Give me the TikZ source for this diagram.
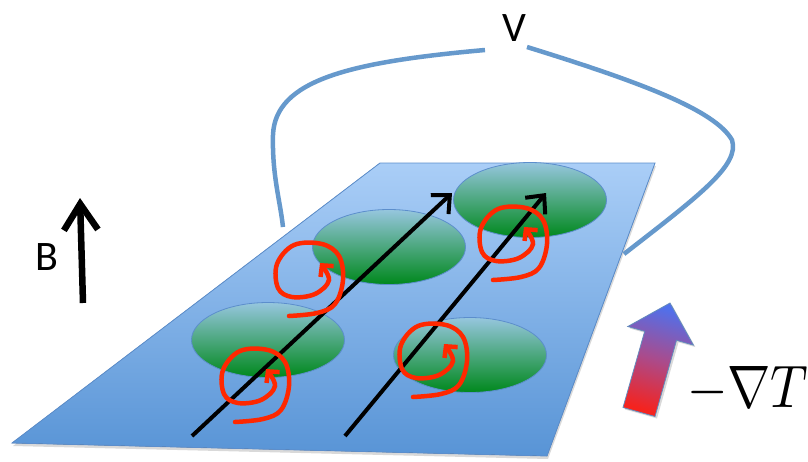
\documentclass[tikz,border=0pt]{standalone}
\usepackage{fontspec}
\newfontfamily\labelfont{Carlito}
\usetikzlibrary{arrows.meta,shapes.geometric,shadows}
\definecolor{platetop}{RGB}{170,206,247}
\definecolor{platebot}{RGB}{88,148,214}
\definecolor{edgeblue}{RGB}{92,142,204}
\definecolor{graintop}{RGB}{150,198,222}
\definecolor{grainbot}{RGB}{0,136,28}
\definecolor{wireblue}{RGB}{102,153,204}
\definecolor{loopred}{RGB}{255,40,0}
\definecolor{hotred}{RGB}{245,35,30}
\definecolor{coldblue}{RGB}{80,112,235}
\definecolor{midpurple}{RGB}{170,75,140}

\begin{document}
\begin{tikzpicture}[
  x=1pt, y=-1pt,
  plate/.style={
    draw=edgeblue,
    line width=.8pt,
    top color=platetop,
    bottom color=platebot,
    drop shadow={shadow xshift=1pt, shadow yshift=-3pt, opacity=.3}
  },
  grain/.style={
    ellipse,
    draw=edgeblue,
    line width=.8pt,
    top color=graintop,
    bottom color=grainbot,
    minimum width=153pt,
    minimum height=75pt,
    inner sep=0pt
  },
  wire/.style={
    wireblue,
    line width=4.5pt
  },
  track/.style={
    line width=4pt,
    -{Straight Barb[length=14pt, width=26pt]}
  },
  field/.style={
    line width=6.5pt,
    -{Straight Barb[length=26pt, width=34pt]}
  },
  label/.style={
    font=\labelfont\fontsize{42}{42}\selectfont,
    inner sep=0pt
  },
  vortex/.pic={
    \draw[loopred, line width=4.5pt, line cap=round,
      -{Straight Barb[length=8pt, width=17pt]}]
      plot[smooth, tension=.6] coordinates {
        (-20,40) (8,37) (26,28) (34,4) (30,-20) (13,-32) (-15,-31)
        (-32,-12) (-31,12) (-17,21) (6,18) (20,4) (11,-13)};
  },
]
\useasboundingbox (0,0) rectangle (808,461);

\coordinate (p1) at (12,443);
\coordinate (p2) at (380,163);
\coordinate (p3) at (655,163);
\coordinate (p4) at (547,456);
\fill[plate] (p1) -- (p2) -- (p3) -- (p4) -- cycle;

\node[grain] (g1) at (389,247) {};
\node[grain] (g2) at (530,200) {};
\node[grain] (g3) at (268,340) {};
\node[grain] (g4) at (470,355) {};

\coordinate (t1s) at (192,436);
\coordinate (t1e) at (452,193);
\coordinate (t2s) at (345,436);
\coordinate (t2e) at (546,193);
\draw[track] (t1s) -- (t1e);
\draw[track] (t2s) -- (t2e);

\pic at (309,276) {vortex};
\pic at (255,382) {vortex};
\pic at (433,357) {vortex};
\pic at (513,240) {vortex};

\node[label, anchor=base] (V) at (514,41) {V};
\coordinate (tapL) at (485,50);
\coordinate (tapR) at (527,47);
\coordinate (leadL) at (283,227);
\coordinate (leadR) at (624,254);
\draw[wire] (tapL) .. controls (350,62) and (275,80) .. (273,135)
  .. controls (272,175) and (280,200) .. (leadL);
\draw[wire] (tapR) .. controls (640,82) and (715,110) .. (732,140)
  .. controls (740,165) and (700,195) .. (leadR);

\node[label, anchor=base west] (B) at (35,270) {B};
\coordinate (bs) at (83,303);
\coordinate (be) at (80,198);
\draw[field] (bs) -- (be);

\shade[draw=edgeblue!80!gray, line width=.8pt,
  top color=coldblue, bottom color=hotred, middle color=midpurple,
  shading angle=-16,
  drop shadow={shadow xshift=2pt, shadow yshift=-2pt, opacity=.3}]
  (623,407.5) -- (644.7,331.3) -- (627.8,326.5) -- (670,303)
  -- (693.4,345.1) -- (676.5,340.3) -- (655,416.5) -- cycle;
\node[anchor=base west, inner sep=0pt, xscale=5.2, yscale=6]
  (grad) at (686,407) {$-\nabla T$};
\end{tikzpicture}
\end{document}
